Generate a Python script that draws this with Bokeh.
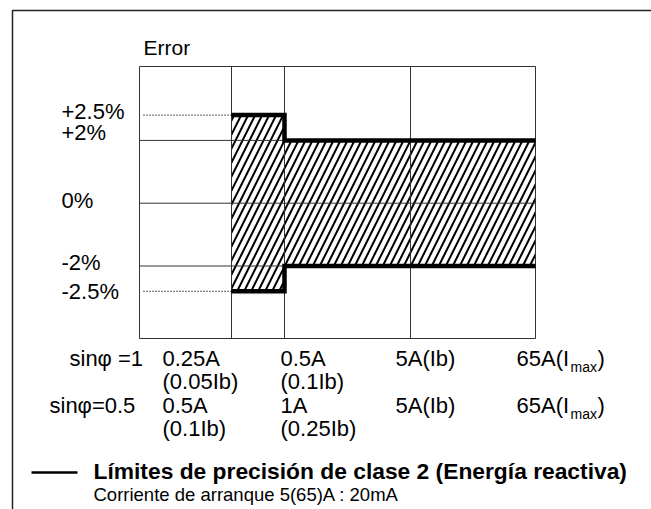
from bokeh.plotting import figure
from bokeh.models import Range1d, ColumnDataSource, CustomJSTransform
from bokeh.transform import transform
from bokeh.core.properties import value
from bokeh.embed import file_html
from bokeh.resources import INLINE

# ---------------- data ----------------
error_ticks = [2.5, 2.0, 0.0, -2.0, -2.5]
error_tick_labels = ["+2.5%", "+2%", "0%", "-2%", "-2.5%"]
grid_errors = [2.0, 0.0, -2.0]          # solid reference lines
dotted_errors = [2.5, -2.5]             # dotted leader lines

row_names = ["sin\u03c6 =1", "sin\u03c6=0.5"]
row1_currents = ["0.25A", "0.5A", "5A(Ib)", "65A(I"]
row1_fraction = ["(0.05Ib)", "(0.1Ib)", "", ""]
row2_currents = ["0.5A", "1A", "5A(Ib)", "65A(I"]
row2_fraction = ["(0.1Ib)", "(0.25Ib)", "", ""]
subscript = "max"

# accuracy band: from current slot to current slot, upper/lower limit (%)
band_names = ["0.05Ib-0.1Ib", "0.1Ib-Imax"]
band_from_slot = [0, 1]
band_to_slot = [1, 3]
band_upper = [2.5, 2.0]
band_lower = [-2.5, -2.0]

y_title = "Error"
legend_title = "L\u00edmites de precisi\u00f3n de clase 2 (Energ\u00eda reactiva)"
legend_note = "Corriente de arranque 5(65)A : 20mA"

# ---------------- layout (page pixels) ----------------
W, H = 651, 509
BOX_L, BOX_R, BOX_T, BOX_B = 139, 535, 66, 338
slot_x = [231, 284, 410, 535]          # schematic current axis positions
label_x = [162, 280, 395, 516]
ylabel_dy = [-4, -8, -3, -4, 0]        # label nudges (px) around their lines
ROW1, ROW1B, ROW2, ROW2B = 358, 381, 405, 428
FONT = value("Liberation Sans")
LINE = "#333333"

# schematic (broken) error scale: linear to +-2 %, stretched beyond
yscale = CustomJSTransform(
    args=dict(y0=202.7, k=31.4, brk=2.0, k2=50.6),
    func="""
      const a = Math.abs(x);
      const d = a <= brk ? a * k : brk * k + (a - brk) * k2;
      return y0 - Math.sign(x) * d;
    """,
    v_func="""
      const out = new Float64Array(xs.length);
      for (let i = 0; i < xs.length; i++) {
        const v = xs[i], a = Math.abs(v);
        const d = a <= brk ? a * k : brk * k + (a - brk) * k2;
        out[i] = y0 - Math.sign(v) * d;
      }
      return out;
    """,
)

p = figure(width=W, height=H, x_range=Range1d(0, W), y_range=Range1d(H, 0),
           output_backend="svg", toolbar_location=None, min_border=0,
           outline_line_color=None, background_fill_color="white",
           border_fill_color="white")
p.axis.visible = False
p.grid.visible = False

# outer frame (extends beyond the window on right/bottom)
p.quad(left=[12], right=[720], top=[10], bottom=[580], fill_alpha=0,
       line_color="#222222", line_width=1.5)

# accuracy band (hatched)
band = ColumnDataSource(dict(
    left=[slot_x[i] for i in band_from_slot],
    right=[slot_x[i] for i in band_to_slot],
    top=band_upper, bottom=band_lower))
p.quad(left="left", right="right", top=transform("top", yscale),
       bottom=transform("bottom", yscale), source=band,
       fill_alpha=0, line_alpha=0, hatch_pattern="/", hatch_color="black",
       hatch_scale=14, hatch_weight=2)

# reference lines
grid = ColumnDataSource(dict(x0=[BOX_L] * len(grid_errors), x1=[BOX_R] * len(grid_errors),
                             y=grid_errors))
p.segment(x0="x0", x1="x1", y0=transform("y", yscale), y1=transform("y", yscale),
          source=grid, line_color=LINE, line_width=1)
p.segment(x0=slot_x[:3], x1=slot_x[:3], y0=[BOX_T] * 3, y1=[BOX_B] * 3,
          line_color=LINE, line_width=1)
dots = ColumnDataSource(dict(x0=[143] * 2, x1=[slot_x[0]] * 2, y=dotted_errors))
p.segment(x0="x0", x1="x1", y0=transform("y", yscale), y1=transform("y", yscale),
          source=dots, line_color="black", line_width=1.2, line_dash="1 2")

# box
p.quad(left=[BOX_L], right=[BOX_R], top=[BOX_T], bottom=[BOX_B], fill_alpha=0,
       line_color=LINE, line_width=1)

# limit outlines (thick)
for sign_vals in (band_upper, band_lower):
    xs, ys = [], []
    for i in range(len(band_names)):
        xs += [slot_x[band_from_slot[i]], slot_x[band_to_slot[i]]]
        ys += [sign_vals[i], sign_vals[i]]
    src = ColumnDataSource(dict(x=xs, y=ys))
    p.line(x="x", y=transform("y", yscale), source=src, line_color="black",
           line_width=4.5, line_join="miter")

# texts (y given at the text's visual middle)
def txt(x, y, s, size="22px", style="normal", **kw):
    p.text(x=x, y=y, text=s, text_font=FONT, text_font_size=size,
           text_font_style=style, text_color="black", text_align="left",
           text_baseline="middle", **kw)

txt([143], [47], [y_title], size="21px")

for val, lab, dy in zip(error_ticks, error_tick_labels, ylabel_dy):
    src = ColumnDataSource(dict(x=[61], y=[val], t=[lab]))
    p.text(x="x", y=transform("y", yscale), text="t", source=src, y_offset=dy,
           text_font=FONT, text_font_size="22px", text_align="left",
           text_baseline="middle", text_color="black")

txt([69], [ROW1], [row_names[0]])
txt([49], [ROW2], [row_names[1]])
txt(label_x, [ROW1] * 4, row1_currents)
txt(label_x, [ROW1B] * 4, row1_fraction)
txt(label_x, [ROW2] * 4, row2_currents)
txt(label_x, [ROW2B] * 4, row2_fraction)
for r in (ROW1, ROW2):
    txt([570], [r + 8], [subscript], size="14px")
    txt([597], [r], [")"])

# legend
p.line(x=[31, 77], y=[472, 472], line_color="black", line_width=2.5)
txt([93], [470], [legend_title], size="22.8px", style="bold")
txt([93], [494], [legend_note], size="18.5px")

open("out.html", "w").write(file_html(p, INLINE))
